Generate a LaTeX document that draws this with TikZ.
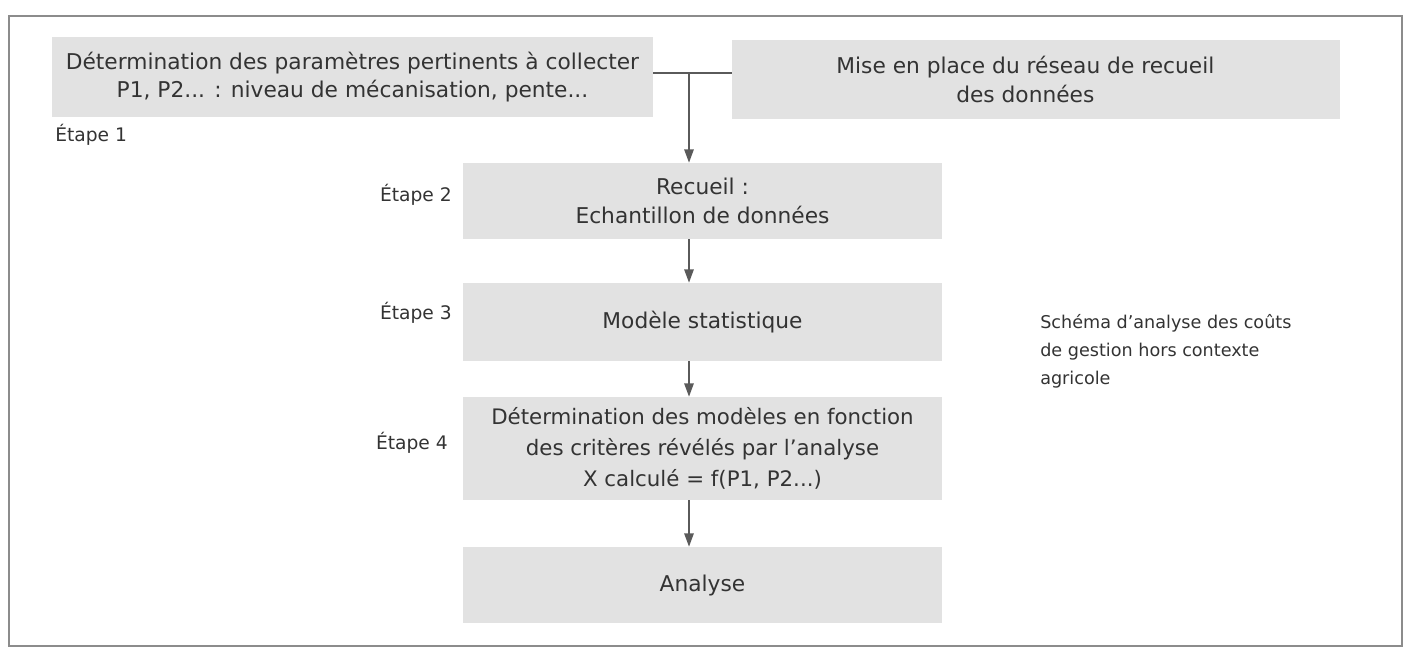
\documentclass[tikz,border=0pt]{standalone}
\usepackage{fontspec}
\setmainfont{DejaVu Sans}
\usetikzlibrary{arrows.meta}
\definecolor{boxgray}{HTML}{E2E2E2}
\definecolor{linegray}{HTML}{5A5A5A}
\definecolor{framegray}{HTML}{8C8C8C}
\definecolor{txt}{HTML}{333333}
\begin{document}
\begin{tikzpicture}[x=0.75pt,y=-0.75pt,
  box/.style={fill=boxgray,draw=none,inner sep=0pt,align=center,text=txt,
    font=\fontsize{16.3}{21.5}\selectfont},
  steplabel/.style={inner sep=0pt,text=txt,font=\fontsize{14}{16}\selectfont},
  conn/.style={draw=linegray,line width=1.3pt},
  arr/.style={conn,-{Triangle[length=10pt,width=7pt]}}]
\useasboundingbox (0,0) rectangle (1410,651);
\draw[framegray,line width=1.3pt] (9,16) rectangle (1402,646);
% boxes
\node[box,minimum width=450.75pt,minimum height=60pt] (b1) at (352.5,77)
  {Détermination des paramètres pertinents à collecter\\P1, P2... : niveau de mécanisation, pente...};
\node[box,minimum width=456pt,minimum height=59.25pt] (b2) at (1036,79.5)
  {\hspace*{-16pt}Mise en place du réseau de recueil\\\hspace*{-16pt}des données};
\node[box,minimum width=359.25pt,minimum height=57pt] (b3) at (702.5,201)
  {Recueil :\\Echantillon de données};
\node[box,minimum width=359.25pt,minimum height=58.5pt] (b4) at (702.5,322)
  {Modèle statistique};
\node[box,minimum width=359.25pt,minimum height=77.25pt,font=\fontsize{16}{23}\selectfont] (b5) at (702.5,448.5)
  {Détermination des modèles en fonction\\des critères révélés par l'analyse\\X calculé = f(P1, P2...)};
\node[box,minimum width=359.25pt,minimum height=57pt] (b6) at (702.5,585)
  {Analyse};
% step labels
\node[steplabel,anchor=west] (e1) at (55,135) {Étape 1};
\node[steplabel,anchor=east] (e2) at (452,195) {Étape 2};
\node[steplabel,anchor=east] (e3) at (452,313) {Étape 3};
\node[steplabel,anchor=east] (e4) at (448,443) {Étape 4};
% side note
\node[anchor=north west,inner sep=0pt,align=left,text=txt,
  font=\fontsize{13.2}{21}\selectfont] (note) at (1040,314)
  {Schéma d'analyse des coûts\\de gestion hors contexte\\agricole};
% connectors
\coordinate (j) at (689,73);
\draw[conn] (b1.east |- j) -- (b2.west |- j);
\draw[arr] (j) -- (j |- b3.north);
\draw[arr] (b3.south -| j) -- (b4.north -| j);
\draw[arr] (b4.south -| j) -- (b5.north -| j);
\draw[arr] (b5.south -| j) -- (b6.north -| j);
\end{tikzpicture}
\end{document}
